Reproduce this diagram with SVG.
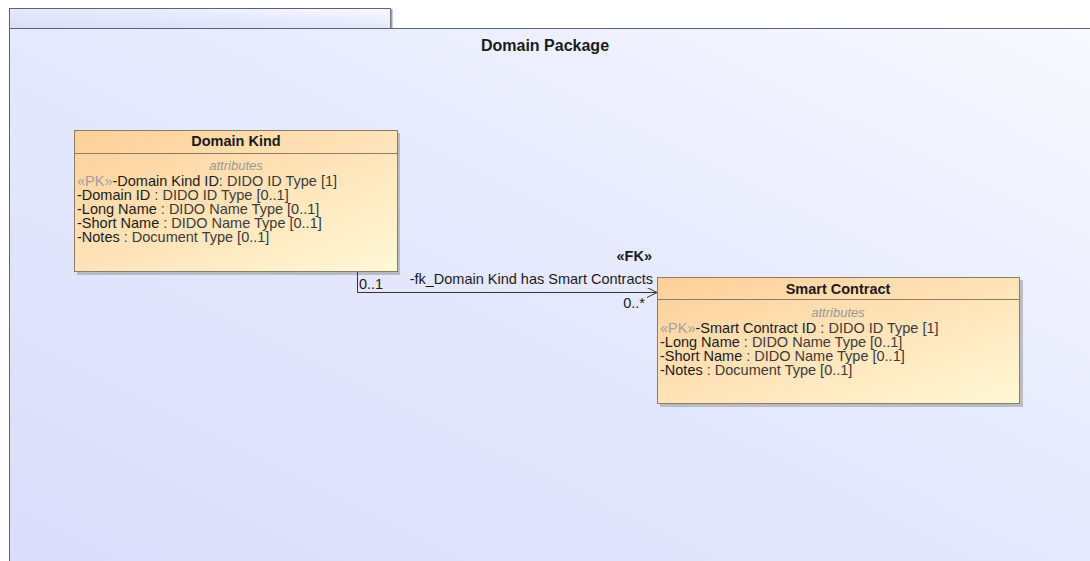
<svg xmlns="http://www.w3.org/2000/svg" width="1090" height="561" viewBox="0 0 1090 561">
<defs>
<linearGradient id="pkg" x1="0" y1="1" x2="1" y2="0">
<stop offset="0" stop-color="#d9ddfa"/>
<stop offset="0.6" stop-color="#e8ebfd"/>
<stop offset="1" stop-color="#f8f9ff"/>
</linearGradient>
<linearGradient id="cls" x1="0" y1="0" x2="1" y2="1">
<stop offset="0" stop-color="#fdcf98"/>
<stop offset="0.5" stop-color="#fee3b8"/>
<stop offset="1" stop-color="#fff8d6"/>
</linearGradient>
<marker id="open" markerWidth="12" markerHeight="12" refX="10" refY="5" orient="auto" markerUnits="userSpaceOnUse">
<path d="M0,0 L10,5 L0,10" fill="none" stroke="#333" stroke-width="1"/>
</marker>
<style>
text{font-family:"Liberation Sans",Arial,sans-serif;fill:#1a1a1a}
.t{font-weight:bold;font-size:14.5px;text-anchor:middle}
.a{font-size:13px;font-style:italic;fill:#999;text-anchor:middle}
.r{font-size:14.5px}
.pk{fill:#a0a0a0}
.ty{fill:#3a3a3a}
.box{fill:url(#cls);stroke:#8a7c66;stroke-width:1}
.sh{fill:#a8a8a8;opacity:0.7}
.sep{stroke:#8a7c66;stroke-width:1}
</style>
</defs>
<rect width="1090" height="561" fill="#ffffff"/>
<g id="domain-package">
<rect x="9.5" y="8.5" width="381" height="20" fill="url(#pkg)" stroke="#5c6078" stroke-width="1"/>
<line x1="391.5" y1="9" x2="391.5" y2="28" stroke="#9a9cae" stroke-width="2"/>
<rect x="9.5" y="28.5" width="1090" height="540" fill="url(#pkg)" stroke="#5c6078" stroke-width="1"/>
<text x="545" y="51" style="font-weight:bold;font-size:16px;text-anchor:middle">Domain Package</text>
</g>
<g id="domain-kind">
<rect x="77" y="133" width="323" height="142" class="sh"/>
<rect x="74.5" y="130.5" width="323" height="141" class="box"/>
<line x1="74.5" y1="153.5" x2="397.5" y2="153.5" class="sep"/>
<text x="236" y="146" class="t">Domain Kind</text>
<text x="236" y="170" class="a">attributes</text>
<text x="77" y="186" class="r"><tspan class="pk">«PK»</tspan>-Domain Kind ID<tspan class="ty">: DIDO ID Type [1]</tspan></text>
<text x="77" y="200" class="r">-Domain ID<tspan class="ty"> : DIDO ID Type [0..1]</tspan></text>
<text x="77" y="214" class="r">-Long Name<tspan class="ty"> : DIDO Name Type [0..1]</tspan></text>
<text x="77" y="228" class="r">-Short Name<tspan class="ty"> : DIDO Name Type [0..1]</tspan></text>
<text x="77" y="242" class="r">-Notes<tspan class="ty"> : Document Type [0..1]</tspan></text>
</g>
<g id="smart-contract">
<rect x="660" y="280" width="363" height="127" class="sh"/>
<rect x="657.5" y="277.5" width="362" height="126" class="box"/>
<line x1="657.5" y1="299.5" x2="1019.5" y2="299.5" class="sep"/>
<text x="838" y="294" class="t">Smart Contract</text>
<text x="838" y="317" class="a">attributes</text>
<text x="660" y="333" class="r"><tspan class="pk">«PK»</tspan>-Smart Contract ID<tspan class="ty"> : DIDO ID Type [1]</tspan></text>
<text x="660" y="347" class="r">-Long Name<tspan class="ty"> : DIDO Name Type [0..1]</tspan></text>
<text x="660" y="361" class="r">-Short Name<tspan class="ty"> : DIDO Name Type [0..1]</tspan></text>
<text x="660" y="375" class="r">-Notes<tspan class="ty"> : Document Type [0..1]</tspan></text>
</g>
<g id="connectors">
<path d="M357.5,272 L357.5,292.5 L657,292.5" fill="none" stroke="#333" stroke-width="1" marker-end="url(#open)"/>
<text x="652" y="261" class="r" style="font-weight:bold;text-anchor:end">«FK»</text>
<text x="653" y="284" class="r" style="text-anchor:end">-fk_Domain Kind has Smart Contracts</text>
<text x="359" y="289" class="r">0..1</text>
<text x="645" y="308" class="r" style="text-anchor:end">0..*</text>
</g>
</svg>
